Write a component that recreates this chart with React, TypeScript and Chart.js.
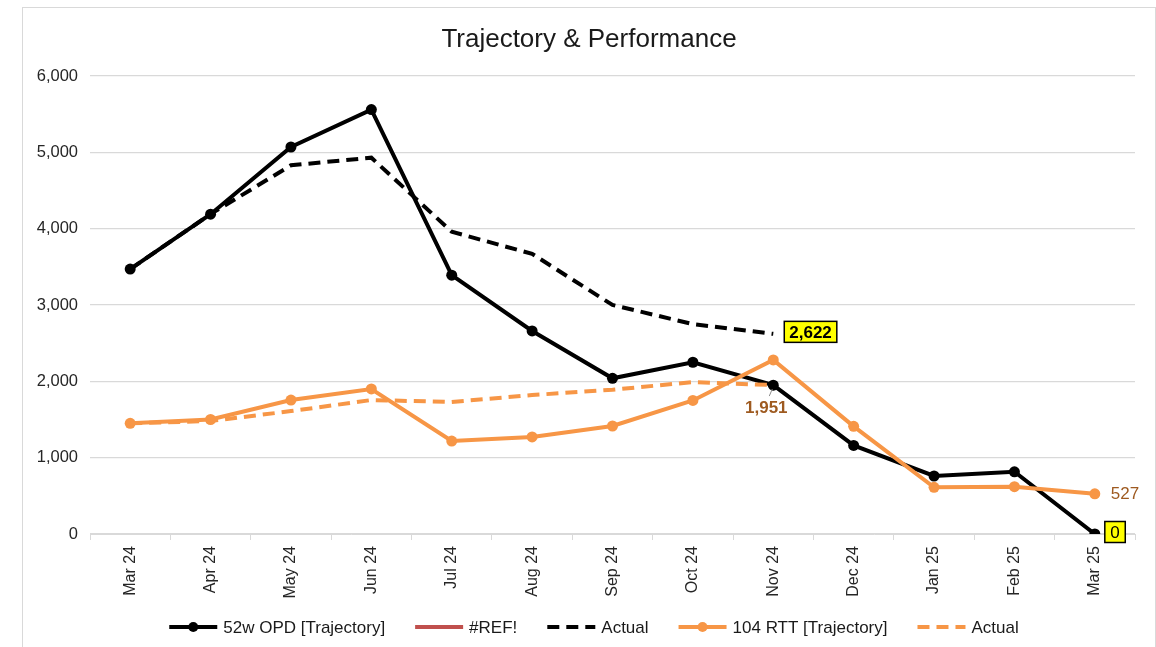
import React, { useEffect, useRef } from "react";
import { Chart, registerables } from "chart.js";

Chart.register(...registerables);

const categories = ["Mar 24", "Apr 24", "May 24", "Jun 24", "Jul 24", "Aug 24", "Sep 24", "Oct 24", "Nov 24", "Dec 24", "Jan 25", "Feb 25", "Mar 25"];
const opdTrajectory = [3470, 4190, 5070, 5560, 3390, 2660, 2040, 2250, 1950, 1160, 760, 815, 0];
const refSeries: (number | null)[] = [null, null, null, null, null, null, null, null, null, null, null, null, null];
const opdActual = [3470, 4190, 4830, 4930, 3960, 3670, 3000, 2750, 2622, null, null, null, null];
const rttTrajectory = [1450, 1500, 1755, 1900, 1218, 1271, 1415, 1750, 2280, 1410, 612, 620, 527];
const rttActual = [1450, 1480, 1610, 1755, 1730, 1820, 1890, 1990, 1951, null, null, null, null];
const yTicks = [0, 1000, 2000, 3000, 4000, 5000, 6000];
const seriesNames = ["52w OPD [Trajectory]", "#REF!", "Actual", "104 RTT [Trajectory]", "Actual"];
const titleText = "Trajectory & Performance";

const BLACK = "#000000";
const ORANGE = "#F79646";
const RED = "#C0504D";
const BROWN = "#9E5A20";
const FONT = "'Liberation Sans', Arial, sans-serif";
const DASH = [12, 7];

const fmt = (v: number) => v.toLocaleString("en-US");

const overlayPlugin = {
  id: "overlay",
  afterDatasetsDraw(chart: any) {
    const ctx = chart.ctx as CanvasRenderingContext2D;
    const pt = (ds: number, i: number) => chart.getDatasetMeta(ds).data[i];
    ctx.save();
    // 2,622 label (OPD actual, last value)
    {
      const p = pt(2, 8);
      const txt = fmt(opdActual[8] as number);
      ctx.font = `bold 17px ${FONT}`;
      const w = ctx.measureText(txt).width;
      const bx = p.x + 11, bw = w + 10, bh = 21, by = p.y - 2 - bh / 2;
      ctx.fillStyle = "#FFFF00";
      ctx.fillRect(bx, by, bw, bh);
      ctx.strokeStyle = "#000";
      ctx.lineWidth = 1.5;
      ctx.strokeRect(bx, by, bw, bh);
      ctx.fillStyle = "#000";
      ctx.textBaseline = "middle";
      ctx.textAlign = "left";
      ctx.fillText(txt, bx + 5, by + bh / 2 + 1);
    }
    // 0 label (OPD trajectory last)
    {
      const p = pt(0, 12);
      const txt = fmt(opdTrajectory[12]);
      ctx.font = `17px ${FONT}`;
      const w = ctx.measureText(txt).width;
      const bx = p.x + 10, bw = w + 11, bh = 21, by = p.y - 2 - bh / 2;
      ctx.fillStyle = "#FFFF00";
      ctx.fillRect(bx, by, bw, bh);
      ctx.strokeStyle = "#000";
      ctx.lineWidth = 1.5;
      ctx.strokeRect(bx, by, bw, bh);
      ctx.fillStyle = "#000";
      ctx.textBaseline = "middle";
      ctx.textAlign = "left";
      ctx.fillText(txt, bx + 5.5, by + bh / 2 + 1);
    }
    // 527 label
    {
      const p = pt(3, 12);
      ctx.font = `17px ${FONT}`;
      ctx.fillStyle = BROWN;
      ctx.textBaseline = "middle";
      ctx.textAlign = "left";
      ctx.fillText(fmt(rttTrajectory[12]), p.x + 16, p.y + 1);
    }
    // 1,951 label
    {
      const p = pt(4, 8);
      ctx.strokeStyle = "#8c8c8c";
      ctx.lineWidth = 1;
      ctx.beginPath();
      ctx.moveTo(p.x - 1, p.y + 4);
      ctx.lineTo(p.x - 4, p.y + 11);
      ctx.stroke();
      ctx.font = `bold 17px ${FONT}`;
      ctx.fillStyle = BROWN;
      ctx.textBaseline = "middle";
      ctx.textAlign = "center";
      ctx.fillText(fmt(rttActual[8] as number), p.x - 7, p.y + 23);
    }
    ctx.restore();
  },
  afterDraw(chart: any) {
    const ctx = chart.ctx as CanvasRenderingContext2D;
    ctx.save();
    // title
    ctx.font = `26px ${FONT}`;
    ctx.fillStyle = "#1a1a1a";
    ctx.textAlign = "center";
    ctx.textBaseline = "middle";
    ctx.fillText(titleText, 566, 32);
    // legend
    const items = [
      { color: BLACK, dash: [] as number[], marker: true },
      { color: RED, dash: [] as number[], marker: false },
      { color: BLACK, dash: DASH, marker: false },
      { color: ORANGE, dash: [] as number[], marker: true },
      { color: ORANGE, dash: DASH, marker: false },
    ];
    ctx.font = `17px ${FONT}`;
    const sample = 48, gap = 6, spacing = 30;
    const widths = seriesNames.map((n) => ctx.measureText(n).width);
    const total = widths.reduce((a, w) => a + sample + gap + w, 0) + spacing * (seriesNames.length - 1);
    let x = 571 - total / 2;
    const y = 619;
    items.forEach((it, i) => {
      ctx.strokeStyle = it.color;
      ctx.lineWidth = 4;
      ctx.setLineDash(it.dash);
      ctx.beginPath();
      ctx.moveTo(x, y);
      ctx.lineTo(x + sample, y);
      ctx.stroke();
      ctx.setLineDash([]);
      if (it.marker) {
        ctx.fillStyle = it.color;
        ctx.beginPath();
        ctx.arc(x + sample / 2, y, 5, 0, Math.PI * 2);
        ctx.fill();
      }
      ctx.fillStyle = "#1a1a1a";
      ctx.textAlign = "left";
      ctx.textBaseline = "middle";
      ctx.fillText(seriesNames[i], x + sample + gap, y + 1);
      x += sample + gap + widths[i] + spacing;
    });
    ctx.restore();
  },
};

export default function App() {
  const ref = useRef<HTMLCanvasElement | null>(null);
  useEffect(() => {
    if (!ref.current) return;
    const chart = new Chart(ref.current, {
      type: "line",
      data: {
        labels: categories,
        datasets: [
          {
            label: seriesNames[0],
            data: opdTrajectory,
            borderColor: BLACK,
            backgroundColor: BLACK,
            borderWidth: 4,
            pointRadius: 5.5,
            pointBackgroundColor: BLACK,
            pointBorderWidth: 0,
            tension: 0,
            order: 5,
          },
          {
            label: seriesNames[1],
            data: refSeries,
            borderColor: RED,
            backgroundColor: RED,
            borderWidth: 4,
            pointRadius: 0,
            order: 4,
          },
          {
            label: seriesNames[2],
            data: opdActual,
            borderColor: BLACK,
            backgroundColor: BLACK,
            borderWidth: 4,
            borderDash: DASH,
            pointRadius: 0,
            tension: 0,
            order: 3,
          },
          {
            label: seriesNames[3],
            data: rttTrajectory,
            borderColor: ORANGE,
            backgroundColor: ORANGE,
            borderWidth: 4,
            pointRadius: 5.5,
            pointBackgroundColor: ORANGE,
            pointBorderWidth: 0,
            tension: 0,
            order: 2,
          },
          {
            label: seriesNames[4],
            data: rttActual,
            borderColor: ORANGE,
            backgroundColor: ORANGE,
            borderWidth: 4,
            borderDash: DASH,
            pointRadius: 0,
            tension: 0,
            order: 1,
          },
        ],
      },
      options: {
        animation: false,
        responsive: false,
        events: [],
        layout: { padding: { left: 0, top: 68, right: 20, bottom: 34 } },
        plugins: {
          legend: { display: false },
          title: { display: false },
          tooltip: { enabled: false },
        },
        scales: {
          x: {
            type: "category",
            offset: true,
            grid: {
              offset: true,
              drawOnChartArea: false,
              drawTicks: true,
              tickLength: 6,
              color: "#d9d9d9",
            },
            border: { display: true, color: "#d9d9d9", width: 1 },
            ticks: {
              minRotation: 90,
              maxRotation: 90,
              padding: 6,
              autoSkip: false,
              color: "#262626",
              font: { family: FONT, size: 16 },
            },
            afterFit: (s: any) => {
              s.height = 80;
            },
          },
          y: {
            min: 0,
            max: 6000,
            grid: { color: "#d9d9d9", lineWidth: 1.2, drawTicks: false },
            border: { display: false },
            afterBuildTicks: (s: any) => {
              s.ticks = yTicks.map((v) => ({ value: v }));
            },
            ticks: {
              padding: 12,
              color: "#262626",
              font: { family: FONT, size: 16.5 },
              callback: (v: any) => fmt(Number(v)),
            },
            afterFit: (s: any) => {
              s.width = 67;
            },
          },
        },
      },
      plugins: [overlayPlugin],
    });
    return () => chart.destroy();
  }, []);

  return (
    <div
      style={{
        position: "absolute",
        left: 22,
        top: 7,
        width: 1134,
        height: 660,
        border: "1px solid #d9d9d9",
        boxSizing: "border-box",
        background: "#fff",
      }}
    >
      <canvas ref={ref} width={1132} height={640} style={{ display: "block" }} />
    </div>
  );
}
